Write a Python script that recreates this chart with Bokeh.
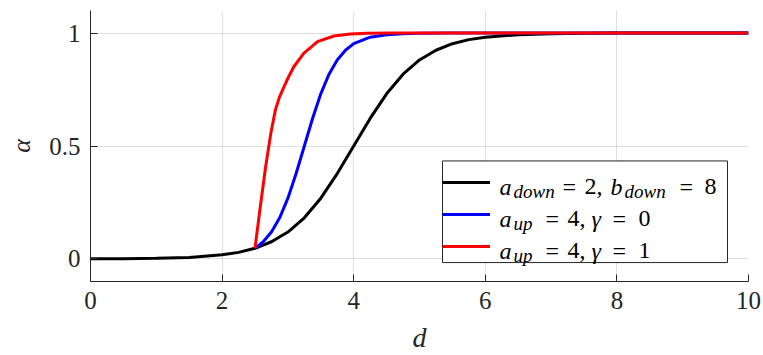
from bokeh.plotting import figure
from bokeh.models import Range1d, FixedTicker, Legend, LegendItem, Label, BoxAnnotation
from bokeh.embed import file_html
from bokeh.resources import INLINE

# ---- data ----
d_down = [0, 0.5, 1, 1.5, 2, 2.25, 2.5, 2.75, 3, 3.25, 3.5, 3.75, 4, 4.25, 4.5,
          4.75, 5, 5.25, 5.5, 5.75, 6, 6.5, 7, 7.5, 8, 9, 10]
alpha_down = [0.0003, 0.0009, 0.0025, 0.0067, 0.018, 0.029, 0.047, 0.076, 0.119,
              0.182, 0.269, 0.378, 0.5, 0.622, 0.731, 0.818, 0.881, 0.924, 0.953,
              0.971, 0.982, 0.993, 0.997, 0.999, 1.0, 1.0, 1.0]

d_up0 = [2.5, 2.625, 2.75, 2.875, 3.0, 3.125, 3.25, 3.375, 3.5, 3.625, 3.75,
         3.875, 4.0, 4.25, 4.5, 4.75, 5.0, 5.5, 6, 10]
alpha_up0 = [0.047, 0.076, 0.119, 0.182, 0.269, 0.378, 0.5, 0.622, 0.731, 0.818,
             0.881, 0.924, 0.953, 0.982, 0.993, 0.997, 0.999, 1.0, 1.0, 1.0]

d_up1 = [2.5, 2.58, 2.66, 2.74, 2.81, 2.87, 2.94, 3.0, 3.09, 3.24, 3.45, 3.7,
         3.95, 4.2, 4.6, 5, 10]
alpha_up1 = [0.047, 0.23, 0.405, 0.555, 0.66, 0.715, 0.762, 0.80, 0.851, 0.91,
             0.962, 0.987, 0.996, 0.999, 1.0, 1.0, 1.0]

x_ticks = [0, 2, 4, 6, 8, 10]
y_ticks = [0, 0.5, 1]
y_tick_labels = ["0", "0.5", "1"]
x_label = "d"
y_label = "α"

FONT = "Liberation Serif"
AX = "#262626"

p = figure(width=763, height=355, output_backend="svg", toolbar_location=None,
           x_range=Range1d(0, 10), y_range=Range1d(-0.1, 1.1),
           min_border_left=90, min_border_right=15, min_border_top=10,
           min_border_bottom=73)
p.outline_line_color = None

r_down = p.line(d_down, alpha_down, line_color="black", line_width=3)
r_up0 = p.line(d_up0, alpha_up0, line_color="#0000ff", line_width=3)
r_up1 = p.line(d_up1, alpha_up1, line_color="#ff0000", line_width=3)

p.xaxis.ticker = FixedTicker(ticks=x_ticks)
p.yaxis.ticker = FixedTicker(ticks=y_ticks)
p.yaxis.major_label_overrides = {t: s for t, s in zip(y_ticks, y_tick_labels)}
p.xaxis.axis_label = x_label
p.yaxis.axis_label = y_label

for ax in (p.xaxis[0], p.yaxis[0]):
    ax.axis_line_color = AX
    ax.axis_line_width = 1
    ax.major_tick_line_color = AX
    ax.major_tick_in = 7
    ax.major_tick_out = 0
    ax.minor_tick_line_color = None
    ax.major_label_text_font = FONT
    ax.major_label_text_font_size = "25px"
    ax.major_label_text_color = AX
    ax.axis_label_text_font = FONT
    ax.axis_label_text_font_style = "italic"
    ax.axis_label_text_color = AX
p.xaxis.axis_label_text_font_size = "28px"
p.yaxis.axis_label_text_font_size = "26px"
p.xaxis.major_label_standoff = 10
p.xaxis.axis_label_standoff = 10
p.yaxis.major_label_standoff = 10
p.yaxis.axis_label_standoff = 10

p.grid.grid_line_color = AX
p.grid.grid_line_alpha = 0.15

# layout helpers: pixel position (page) -> data position
def X(px):
    return (px - 90) / 65.8

def Y(py):
    return 1.1 - (py - 10) / 226.67

# white legend box (covers the grid), border drawn here
p.add_layout(BoxAnnotation(left=X(442), right=X(727), top=Y(161), bottom=Y(263),
                           fill_color="white", fill_alpha=1.0,
                           line_color=AX, line_width=1, line_alpha=1.0,
                           level="underlay"))

legend = Legend(items=[LegendItem(label=" ", renderers=[r_down]),
                       LegendItem(label=" ", renderers=[r_up0]),
                       LegendItem(label=" ", renderers=[r_up1])],
                location=(352, 19), margin=0, padding=3, spacing=0,
                glyph_width=48, glyph_height=32, label_height=32,
                label_width=226, label_standoff=5,
                label_text_font_size="8px",
                border_line_color=None,
                background_fill_alpha=0.0)
p.add_layout(legend)

rows = [
    (187, [("a", "i", 499), ("down", "s", 513), ("=", "r", 562), ("2,", "r", 584),
           ("b", "i", 610), ("down", "s", 624), ("=", "r", 679), ("8", "r", 704)]),
    (219, [("a", "i", 499), ("up", "s", 513), ("=", "r", 545), ("4,", "r", 567),
           ("γ", "i", 591), ("=", "r", 612), ("0", "r", 638)]),
    (251, [("a", "i", 499), ("up", "s", 513), ("=", "r", 545), ("4,", "r", 567),
           ("γ", "i", 591), ("=", "r", 612), ("1", "r", 638)]),
]
for base, pieces in rows:
    for txt, kind, px in pieces:
        sub = kind == "s"
        p.add_layout(Label(x=X(px), y=Y(base + (5 if sub else 0)), text=txt,
                           level="overlay", text_font=FONT,
                           text_font_style="normal" if kind == "r" else "italic",
                           text_font_size="19px" if sub else "24px",
                           text_color="black", text_baseline="alphabetic",
                           text_align="left"))

open("out.html", "w").write(file_html(p, INLINE))
